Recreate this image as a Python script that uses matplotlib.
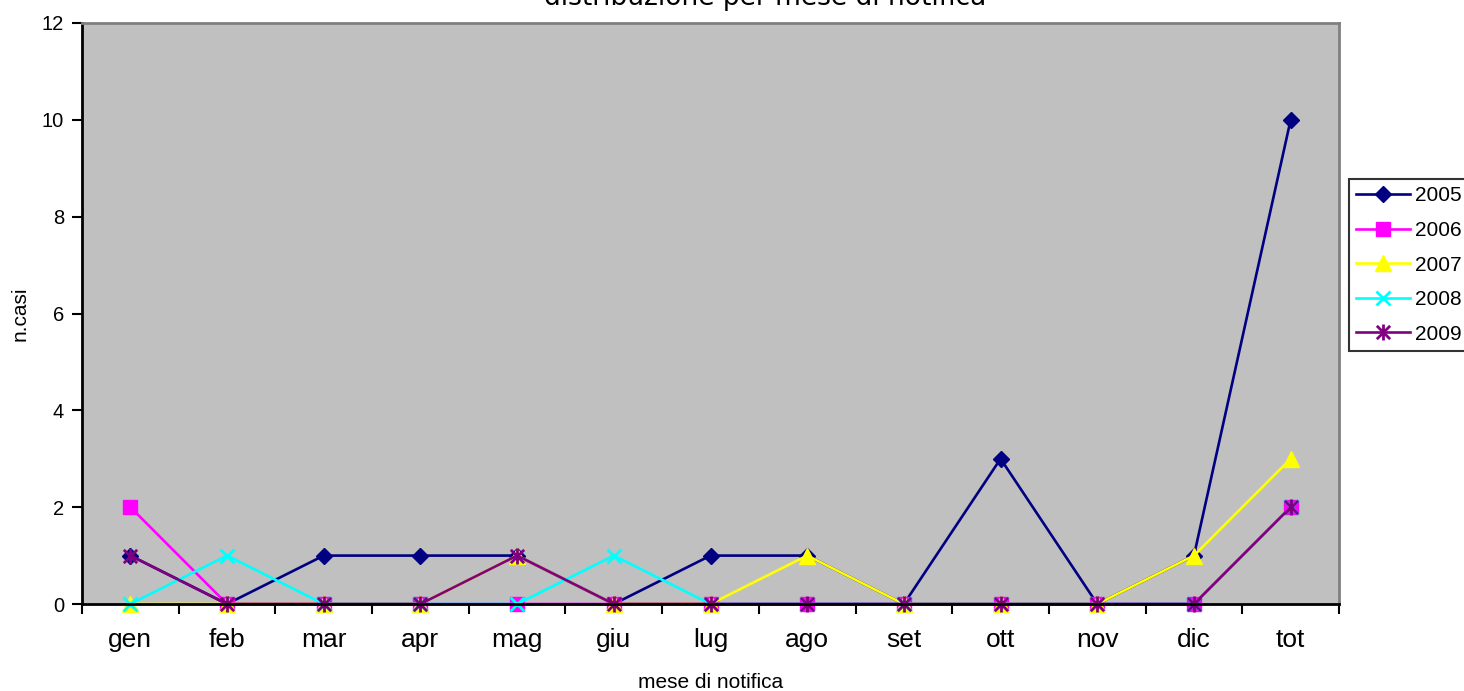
import matplotlib
matplotlib.use("Agg")
import matplotlib.pyplot as plt
from matplotlib.path import Path
import numpy as np

plt.rcParams['font.family'] = ['Liberation Sans', 'DejaVu Sans']

months = ["gen", "feb", "mar", "apr", "mag", "giu", "lug", "ago", "set", "ott", "nov", "dic", "tot"]
cases_2005 = [1, 0, 1, 1, 1, 0, 1, 1, 0, 3, 0, 1, 10]
cases_2006 = [2, 0, 0, 0, 0, 0, 0, 0, 0, 0, 0, 0, 2]
cases_2007 = [0, 0, 0, 0, 1, 0, 0, 1, 0, 0, 0, 1, 3]
cases_2008 = [0, 1, 0, 0, 0, 1, 0, 0, 0, 0, 0, 0, 2]
cases_2009 = [1, 0, 0, 0, 1, 0, 0, 0, 0, 0, 0, 0, 2]
years = ["2005", "2006", "2007", "2008", "2009"]
y_ticks = [0, 2, 4, 6, 8, 10, 12]

# star marker: an X crossed by a vertical stroke
star = Path(
    [(-1, -1), (1, 1), (-1, 1), (1, -1), (0, -1.2), (0, 1.2)],
    [Path.MOVETO, Path.LINETO, Path.MOVETO, Path.LINETO, Path.MOVETO, Path.LINETO],
)

styles = [
    dict(color="#000080", marker="D", ms=8.5, mec="#000080", mfc="#000080"),
    dict(color="#FF00FF", marker="s", ms=10.5, mec="#FF00FF", mfc="#FF00FF"),
    dict(color="#FFFF00", marker="^", ms=11, mec="#FFFF00", mfc="#FFFF00"),
    dict(color="#00FFFF", marker="x", ms=10.5, mew=2),
    dict(color="#800080", marker=star, ms=11.5, mew=2),
]

fig = plt.figure(figsize=(14.64, 6.91), dpi=100)
W, H = 1464, 691
ax = fig.add_axes([82 / W, 1 - 604 / H, (1339 - 82) / W, (604 - 23) / H])
ax.set_facecolor("#C0C0C0")

x = np.arange(len(months))
series = [cases_2005, cases_2006, cases_2007, cases_2008, cases_2009]
handles = []
for yr, vals, st in zip(years, series, styles):
    h, = ax.plot(x, vals, lw=1.9, label=yr, clip_on=False, **st)
    handles.append(h)

ax.set_xlim(-0.5, len(months) - 0.5)
ax.set_ylim(0, 12)
ax.set_yticks(y_ticks)
ax.tick_params(axis="y", direction="out", length=7, width=1.5, labelsize=14.5, pad=6)

# category boundaries as tick marks, names centred between them
ax.set_xticks(np.arange(-0.5, len(months), 1.0))
ax.set_xticklabels([])
ax.set_xticks(x, minor=True)
ax.set_xticklabels(months, minor=True, fontsize=19)
ax.tick_params(axis="x", which="major", direction="out", length=7, width=1.5)
ax.tick_params(axis="x", which="minor", length=0, pad=17)

for side in ("left", "bottom"):
    ax.spines[side].set_color("black")
    ax.spines[side].set_linewidth(2)
for side in ("top", "right"):
    ax.spines[side].set_color("#808080")
    ax.spines[side].set_linewidth(2)

ax.set_ylabel("n.casi", fontsize=15, va="center")
ax.yaxis.set_label_coords(-0.0493, 0.5)
ax.set_xlabel("mese di notifica", fontsize=15, va="center")
ax.xaxis.set_label_coords(0.5, -(682 - 604) / (604 - 23))

fig.text(765 / W, 1 - 5 / H, "distribuzione per mese di notifica",
         ha="center", va="baseline", fontsize=19, family="DejaVu Sans")

leg = fig.legend(handles=handles, loc="upper left",
                 bbox_to_anchor=(1349 / W, 1 - 179 / H),
                 fontsize=15, frameon=True, fancybox=False,
                 handlelength=2.6, handletextpad=0.2, borderpad=0.35,
                 labelspacing=0.75, borderaxespad=0)
leg.get_frame().set_edgecolor("black")
leg.get_frame().set_linewidth(1.5)
leg.get_frame().set_facecolor("white")

fig.savefig("out.png", dpi=100)
